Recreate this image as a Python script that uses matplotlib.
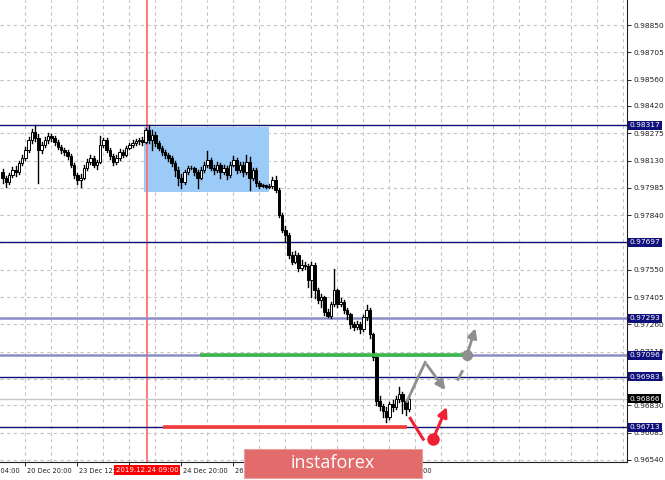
import matplotlib
matplotlib.use("Agg")
import matplotlib.pyplot as plt
from matplotlib.patches import Rectangle, FancyArrowPatch
import matplotlib.transforms as mtransforms

# H1 candles
opens = [0.98070, 0.98039, 0.98017, 0.98055, 0.98081, 0.98070, 0.98118, 0.98145, 0.98187, 0.98240,
         0.98282, 0.98251, 0.98187, 0.98214, 0.98240, 0.98261, 0.98251, 0.98229, 0.98203, 0.98187,
         0.98176, 0.98155, 0.98108, 0.98055, 0.98028, 0.98039, 0.98092, 0.98123, 0.98145, 0.98108,
         0.98123, 0.98214, 0.98240, 0.98187, 0.98155, 0.98123, 0.98145, 0.98176, 0.98161, 0.98198,
         0.98214, 0.98224, 0.98235, 0.98240, 0.98229, 0.98293, 0.98240, 0.98267, 0.98224, 0.98198,
         0.98176, 0.98161, 0.98145, 0.98118, 0.98081, 0.98039, 0.98017, 0.98070, 0.98092, 0.98090,
         0.98070, 0.98039, 0.98081, 0.98108, 0.98134, 0.98092, 0.98081, 0.98108, 0.98070, 0.98092,
         0.98055, 0.98108, 0.98134, 0.98081, 0.98108, 0.98070, 0.98123, 0.98039, 0.98081, 0.98012,
         0.97996, 0.97998, 0.97991, 0.97996, 0.98028, 0.97975, 0.97843, 0.97763, 0.97737, 0.97631,
         0.97593, 0.97631, 0.97562, 0.97578, 0.97572, 0.97498, 0.97578, 0.97445, 0.97392, 0.97403,
         0.97328, 0.97307, 0.97366, 0.97445, 0.97366, 0.97381, 0.97339, 0.97313, 0.97260, 0.97244,
         0.97260, 0.97233, 0.97297, 0.97339, 0.97207, 0.97085, 0.96851, 0.96825, 0.96798, 0.96767,
         0.96836, 0.96820, 0.96862, 0.96889, 0.96851, 0.96809]
highs = [0.98085, 0.98050, 0.98065, 0.98095, 0.98100, 0.98130, 0.98160, 0.98200, 0.98255, 0.98300,
         0.98317, 0.98270, 0.98230, 0.98255, 0.98275, 0.98270, 0.98262, 0.98240, 0.98215, 0.98195,
         0.98185, 0.98165, 0.98115, 0.98065, 0.98060, 0.98105, 0.98140, 0.98160, 0.98155, 0.98135,
         0.98260, 0.98250, 0.98248, 0.98195, 0.98165, 0.98160, 0.98190, 0.98185, 0.98210, 0.98225,
         0.98240, 0.98245, 0.98250, 0.98255, 0.98305, 0.98317, 0.98290, 0.98280, 0.98235, 0.98210,
         0.98185, 0.98170, 0.98155, 0.98130, 0.98095, 0.98060, 0.98080, 0.98100, 0.98100, 0.98098,
         0.98080, 0.98095, 0.98120, 0.98180, 0.98145, 0.98105, 0.98120, 0.98115, 0.98105, 0.98100,
         0.98120, 0.98155, 0.98145, 0.98120, 0.98120, 0.98160, 0.98150, 0.98090, 0.98090, 0.98020,
         0.98005, 0.98002, 0.98005, 0.98045, 0.98050, 0.97985, 0.97850, 0.97780, 0.97745, 0.97645,
         0.97650, 0.97640, 0.97600, 0.97590, 0.97580, 0.97590, 0.97585, 0.97455, 0.97420, 0.97410,
         0.97340, 0.97380, 0.97552, 0.97450, 0.97400, 0.97390, 0.97345, 0.97320, 0.97275, 0.97280,
         0.97270, 0.97310, 0.97365, 0.97345, 0.97215, 0.97095, 0.96880, 0.96835, 0.96820, 0.96850,
         0.96860, 0.96880, 0.96925, 0.96900, 0.96860, 0.96875]
lows = [0.98010, 0.97990, 0.98005, 0.98045, 0.98050, 0.98060, 0.98105, 0.98135, 0.98175, 0.98225,
        0.98235, 0.98012, 0.98170, 0.98200, 0.98225, 0.98235, 0.98215, 0.98190, 0.98170, 0.98160,
        0.98140, 0.98095, 0.98040, 0.98005, 0.97990, 0.98030, 0.98080, 0.98110, 0.98095, 0.98085,
        0.98115, 0.98200, 0.98175, 0.98140, 0.98105, 0.98110, 0.98135, 0.98150, 0.98155, 0.98190,
        0.98200, 0.98215, 0.98220, 0.98215, 0.98225, 0.98225, 0.98187, 0.98210, 0.98185, 0.98160,
        0.98145, 0.98130, 0.98100, 0.98050, 0.98000, 0.97986, 0.98005, 0.98060, 0.98085, 0.98055,
        0.97986, 0.98030, 0.98070, 0.98095, 0.98080, 0.98060, 0.98070, 0.98040, 0.98060, 0.98030,
        0.98045, 0.98100, 0.98065, 0.98070, 0.98050, 0.98060, 0.97975, 0.98025, 0.97995, 0.97985,
        0.97988, 0.97982, 0.97985, 0.97985, 0.97965, 0.97830, 0.97750, 0.97700, 0.97610, 0.97580,
        0.97585, 0.97545, 0.97550, 0.97555, 0.97460, 0.97408, 0.97400, 0.97375, 0.97350, 0.97310,
        0.97297, 0.97295, 0.97355, 0.97350, 0.97355, 0.97320, 0.97290, 0.97240, 0.97230, 0.97235,
        0.97215, 0.97225, 0.97285, 0.97190, 0.97070, 0.96830, 0.96805, 0.96770, 0.96740, 0.96755,
        0.96800, 0.96810, 0.96850, 0.96790, 0.96780, 0.96800]
closes = [0.98039, 0.98017, 0.98055, 0.98081, 0.98070, 0.98118, 0.98145, 0.98187, 0.98240, 0.98282,
          0.98251, 0.98187, 0.98214, 0.98240, 0.98261, 0.98251, 0.98229, 0.98203, 0.98187, 0.98176,
          0.98155, 0.98108, 0.98055, 0.98028, 0.98039, 0.98092, 0.98123, 0.98145, 0.98108, 0.98123,
          0.98214, 0.98240, 0.98187, 0.98155, 0.98123, 0.98145, 0.98176, 0.98161, 0.98198, 0.98214,
          0.98224, 0.98235, 0.98240, 0.98229, 0.98293, 0.98240, 0.98267, 0.98224, 0.98198, 0.98176,
          0.98161, 0.98145, 0.98118, 0.98081, 0.98039, 0.98017, 0.98070, 0.98092, 0.98090, 0.98070,
          0.98039, 0.98081, 0.98108, 0.98134, 0.98092, 0.98081, 0.98108, 0.98070, 0.98092, 0.98055,
          0.98108, 0.98134, 0.98081, 0.98108, 0.98070, 0.98123, 0.98039, 0.98081, 0.98012, 0.97996,
          0.97998, 0.97991, 0.97996, 0.98028, 0.97975, 0.97843, 0.97763, 0.97737, 0.97631, 0.97593,
          0.97631, 0.97562, 0.97578, 0.97572, 0.97498, 0.97578, 0.97445, 0.97392, 0.97403, 0.97328,
          0.97307, 0.97366, 0.97445, 0.97366, 0.97381, 0.97339, 0.97313, 0.97260, 0.97244, 0.97260,
          0.97233, 0.97297, 0.97339, 0.97207, 0.97085, 0.96851, 0.96825, 0.96798, 0.96767, 0.96836,
          0.96820, 0.96862, 0.96889, 0.96851, 0.96809, 0.96866]

price_ticks = [0.98850, 0.98705, 0.98560, 0.98420, 0.98275, 0.98130, 0.97985, 0.97840, 0.97697,
               0.97550, 0.97405, 0.97260, 0.97115, 0.96970, 0.96830, 0.96685, 0.96540]
# labels that are fully hidden behind the tags / logo are left out
time_pos = [-9, 7, 23, 55, 71, 118]
time_labels = ["20 Dec 04:00", "20 Dec 20:00", "23 Dec 12:00", "24 Dec 20:00", "26 Dec 12:00", "27 Dec 21:00"]
grid_ticks = [7, 23, 39, 55, 71, 87, 103, 118]

# levels: price, colour, width
levels = [(0.98317, "#10107a", 1.0), (0.97697, "#10107a", 1.0), (0.97293, "#8c8cc8", 1.8),
          (0.97096, "#8c8cc8", 1.8), (0.96983, "#10107a", 1.0), (0.96713, "#10107a", 1.0)]
current_price = 0.96866
marker_bar = 44.4
marker_label = "2019.12.24 09:00"

# zone and drawn objects (bar index, price)
zone_bars = (43.5, 82.0)
zone_prices = (0.97964, 0.98309)
green_seg = ([60.7, 142.3], [0.97096, 0.97096])
red_seg = ([49.4, 124.4], [0.96713, 0.96713])
grey_path = ([124.4, 130.0, 136.7], [0.96851, 0.97058, 0.96899])
grey_dash = ([140.1, 141.4], [0.96968, 0.97010])
grey_dot = (142.9, 0.97100)
grey_tip = (145.7, 0.97254)
red_path = ([125.4, 129.4], [0.96761, 0.96650])
red_dot = (132.4, 0.96650)
red_tip = (137.0, 0.96835)

fig = plt.figure(figsize=(6.65, 4.8), dpi=100)
ax = fig.add_axes([0.0, 0.0375, 627 / 665, 0.9625])
ax.set_xlim(-0.8, 192.1)
ax.set_ylim(0.96529, 0.98983)

# grid
for gx in range(-1, 193, 8):
    ax.axvline(gx, color="#c4c4c4", lw=0.8, ls=(0, (3, 3)), zorder=0)
for p in price_ticks:
    ax.axhline(p, color="#c4c4c4", lw=0.8, ls=(0, (3, 3)), zorder=0)

ax.add_patch(Rectangle((zone_bars[0], zone_prices[0]), zone_bars[1] - zone_bars[0],
                       zone_prices[1] - zone_prices[0], facecolor="#9ccbf8", edgecolor="none", zorder=1))
ax.axvline(marker_bar, color="#ff7070", lw=1.3, zorder=1.5)

for p, col, w in levels:
    ax.axhline(p, color=col, lw=w, zorder=2)
ax.axhline(current_price, color="#c8c8c8", lw=1.0, zorder=2)

# candles
for i in range(len(closes)):
    o, h, l, c = opens[i], highs[i], lows[i], closes[i]
    ax.plot([i, i], [l, h], color="black", lw=1.0, zorder=3)
    lo, hi = min(o, c), max(o, c)
    if hi - lo < 0.00003:
        hi = lo + 0.00003
    ax.add_patch(Rectangle((i - 0.36, lo), 0.72, hi - lo, facecolor="white" if c >= o else "black",
                           edgecolor="black", lw=0.7, zorder=3.5))

ax.plot(*green_seg, color="#3cb84a", lw=2.6, zorder=4, solid_capstyle="butt")
ax.plot(*red_seg, color="#f03a3a", lw=2.6, zorder=4, solid_capstyle="butt")

# forecast arrows
grey = "#8f8f8f"
ax.plot(grey_path[0][:2], grey_path[1][:2], color=grey, lw=2.0, zorder=5)
ax.add_patch(FancyArrowPatch((grey_path[0][1], grey_path[1][1]), (grey_path[0][2], grey_path[1][2]),
                             arrowstyle="-|>", mutation_scale=14, color=grey, lw=2.0, zorder=5))
ax.plot(*grey_dash, color=grey, lw=2.0, zorder=5)
ax.plot(*grey_dot, "o", color=grey, ms=7, zorder=5)
ax.add_patch(FancyArrowPatch(grey_dot, grey_tip, arrowstyle="-|>", mutation_scale=14,
                             color=grey, lw=2.0, zorder=5))
red = "#ee2233"
ax.plot(*red_path, color=red, lw=2.2, zorder=5)
ax.plot(*red_dot, "o", color=red, ms=8, zorder=5)
ax.add_patch(FancyArrowPatch(red_dot, red_tip, arrowstyle="-|>", mutation_scale=14,
                             color=red, lw=2.2, zorder=5))

# axes look
for s in ["top", "left"]:
    ax.spines[s].set_visible(False)
ax.spines["right"].set_color("#202020")
ax.spines["bottom"].set_color("#202020")
ax.yaxis.tick_right()
ax.set_yticks(price_ticks)
# the 0.97697 scale label sits exactly under its own tag, so only the tag is shown
ax.set_yticklabels(["" if p == 0.97697 else f"{p:.5f}" for p in price_ticks], fontsize=5.3, color="#202020")
ax.tick_params(axis="y", length=3, width=0.6, pad=1.5)
ax.set_xticks(grid_ticks)
ax.set_xticklabels([])
ax.tick_params(axis="x", length=3, width=0.6)

trans = mtransforms.blended_transform_factory(ax.transData, ax.transAxes)
for t, lab in zip(time_pos, time_labels):
    ax.text(t + 0.4, -0.013, lab, transform=trans, fontsize=4.8, ha="left", va="top",
            color="#202020", clip_on=False)

# price tags
for p, col, w in levels:
    ax.text(1.004, p, f"{p:.5f}", transform=ax.get_yaxis_transform(), fontsize=5.3, color="white",
            va="center", ha="left", zorder=10,
            bbox=dict(boxstyle="square,pad=0.2", facecolor="#10107a", edgecolor="none"))
ax.text(1.004, current_price, f"{current_price:.5f}", transform=ax.get_yaxis_transform(), fontsize=5.3,
        color="white", va="center", ha="left", zorder=10,
        bbox=dict(boxstyle="square,pad=0.2", facecolor="black", edgecolor="none"))

ax.text(marker_bar, -0.011, marker_label, transform=trans, fontsize=5.0, ha="center", va="top",
        color="white", zorder=10, clip_on=False,
        bbox=dict(boxstyle="square,pad=0.25", facecolor="#ff0000", edgecolor="none"))

# logo box
fig.patches.append(Rectangle((244 / 665, 0.004), 178 / 665, 0.061, transform=fig.transFigure,
                             facecolor="#e26b6b", edgecolor="#eaa0a0", lw=0.8, zorder=20))
fig.text(333 / 665, 0.036, "instaforex", color="white", fontsize=13, ha="center", va="center",
         family="Open Sans", zorder=21)

fig.savefig("out.png", dpi=100)
